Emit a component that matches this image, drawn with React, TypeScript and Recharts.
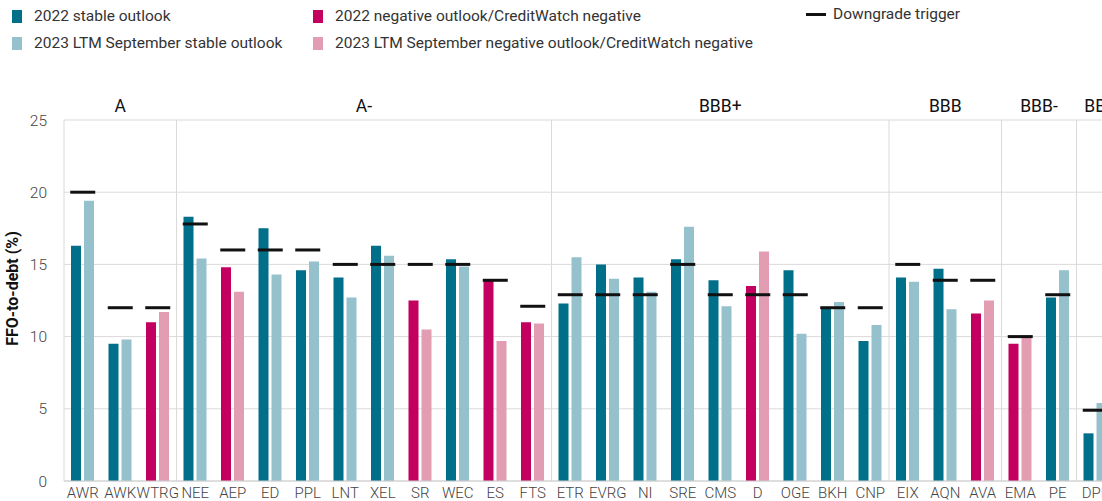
import React from "react";
import {
  Bar,
  CartesianGrid,
  Cell,
  ComposedChart,
  Line,
  ReferenceArea,
  ReferenceLine,
  XAxis,
  YAxis,
} from "recharts";

const tickers = [
  "AWR", "AWK", "WTRG", "NEE", "AEP", "ED", "PPL", "LNT", "XEL", "SR",
  "WEC", "ES", "FTS", "ETR", "EVRG", "NI", "SRE", "CMS", "D", "OGE",
  "BKH", "CNP", "EIX", "AQN", "AVA", "EMA", "PE", "DPL",
];

// negative outlook / CreditWatch negative
const negative = ["WTRG", "AEP", "SR", "ES", "FTS", "D", "AVA", "EMA"];

const ffo2022 = [
  16.3, 9.5, 11.0, 18.3, 14.8, 17.5, 14.6, 14.1, 16.3, 12.5,
  15.35, 13.9, 11.0, 12.3, 15.0, 14.1, 15.35, 13.9, 13.5, 14.6,
  12.0, 9.7, 14.1, 14.7, 11.6, 9.5, 12.7, 3.3,
];

const ffo2023 = [
  19.4, 9.8, 11.7, 15.4, 13.1, 14.3, 15.2, 12.7, 15.6, 10.5,
  14.85, 9.7, 10.9, 15.5, 14.0, 13.1, 17.6, 12.1, 15.9, 10.2,
  12.4, 10.8, 13.8, 11.9, 12.5, 10.1, 14.6, 5.4,
];

const triggers = [
  20, 12, 12, 17.8, 16, 16, 16, 15, 15, 15,
  15, 13.9, 12.1, 12.9, 12.9, 12.9, 15, 12.9, 12.9, 12.9,
  12, 12, 15, 13.9, 13.9, 10, 12.9, 4.9,
];

const groupNames = ["A", "A-", "BBB+", "BBB", "BBB-", "BB"];
const groupFirst = ["AWR", "NEE", "ETR", "EIX", "EMA", "DPL"];
const groupLast = ["WTRG", "FTS", "CNP", "AVA", "PE", "DPL"];

const yTicks = [0, 5, 10, 15, 20, 25];

const DARK = "#006f89";
const LIGHT = "#95c1cd";
const MAGENTA = "#c3005f";
const PINK = "#e29db3";
const FONT = "Roboto, 'Noto Sans', sans-serif";

const data = tickers.map((t, i) => ({
  name: t,
  y2022: ffo2022[i],
  y2023: ffo2023[i],
  trigger: triggers[i],
  neg: negative.includes(t),
}));

const TriggerDash = (props: any) => {
  const { cx, cy, index } = props;
  if (cx == null || cy == null) return <g key={index} />;
  return (
    <line
      key={index}
      x1={cx - 12.5}
      x2={cx + 12.5}
      y1={cy}
      y2={cy}
      stroke="#111"
      strokeWidth={3}
    />
  );
};

const legendItems = [
  { label: "2022 stable outlook", color: DARK, left: 12, top: 7 },
  { label: "2023 LTM September stable outlook", color: LIGHT, left: 12, top: 34 },
  { label: "2022 negative outlook/CreditWatch negative", color: MAGENTA, left: 313, top: 7 },
  { label: "2023 LTM September negative outlook/CreditWatch negative", color: PINK, left: 313, top: 34 },
];

export default function App() {
  return (
    <div
      style={{
        position: "fixed",
        left: 0,
        top: 0,
        width: 1102,
        height: 501,
        overflow: "hidden",
        background: "#fff",
        fontFamily: FONT,
      }}
    >
      {legendItems.map((it) => (
        <div
          key={it.label}
          style={{
            position: "absolute",
            left: it.left,
            top: it.top,
            display: "flex",
            alignItems: "center",
            fontSize: 15.5,
            color: "#333",
            whiteSpace: "nowrap",
          }}
        >
          <span
            style={{ width: 10, height: 13, background: it.color, marginRight: 12, display: "inline-block" }}
          />
          {it.label}
        </div>
      ))}
      <div
        style={{
          position: "absolute",
          left: 806,
          top: 5,
          display: "flex",
          alignItems: "center",
          fontSize: 15.5,
          color: "#333",
          whiteSpace: "nowrap",
        }}
      >
        <span style={{ width: 20, height: 3, background: "#111", marginRight: 7, display: "inline-block" }} />
        Downgrade trigger
      </div>

      <div style={{ position: "absolute", left: 0, top: 0 }}>
        <ComposedChart
          width={1125}
          height={501}
          data={data}
          margin={{ top: 120, right: 11, bottom: 0, left: 0 }}
          barGap={3}
          style={{ fontFamily: FONT }}
        >
          <CartesianGrid vertical={false} stroke="#dadada" />
          <XAxis
            dataKey="name"
            interval={0}
            height={20}
            tickSize={0}
            tickMargin={6}
            axisLine={{ stroke: "#cfcfcf" }}
            tick={{ fill: "#444", fontSize: 15, fontWeight: 300 }}
          />
          <YAxis
            width={64}
            domain={[0, 25]}
            ticks={yTicks}
            tickSize={0}
            tickMargin={17}
            axisLine={{ stroke: "#dadada" }}
            tick={{ fill: "#444", fontSize: 15.5, fontWeight: 300 }}
            label={{
              value: "FFO-to-debt (%)",
              angle: -90,
              position: "insideLeft",
              offset: 12,
              dy: -12,
              style: { fontWeight: 700, fontSize: 16, fill: "#111", textAnchor: "middle" },
            }}
          />
          {groupNames.map((g, i) => (
            <ReferenceArea
              key={g}
              x1={groupFirst[i]}
              x2={groupLast[i]}
              fillOpacity={0}
              strokeOpacity={0}
              ifOverflow="visible"
              label={{ value: g, position: "top", offset: 8, fill: "#111", fontSize: 17.5 }}
            />
          ))}
          {groupFirst.slice(1).map((t) => (
            <ReferenceLine key={t} x={t} position="start" stroke="#dadada" ifOverflow="visible" />
          ))}
          <Bar dataKey="y2022" barSize={10} isAnimationActive={false}>
            {data.map((d) => (
              <Cell key={d.name} fill={d.neg ? MAGENTA : DARK} />
            ))}
          </Bar>
          <Bar dataKey="y2023" barSize={10} isAnimationActive={false}>
            {data.map((d) => (
              <Cell key={d.name} fill={d.neg ? PINK : LIGHT} />
            ))}
          </Bar>
          <Line
            dataKey="trigger"
            stroke="none"
            dot={TriggerDash}
            activeDot={false}
            isAnimationActive={false}
          />
        </ComposedChart>
      </div>
    </div>
  );
}
